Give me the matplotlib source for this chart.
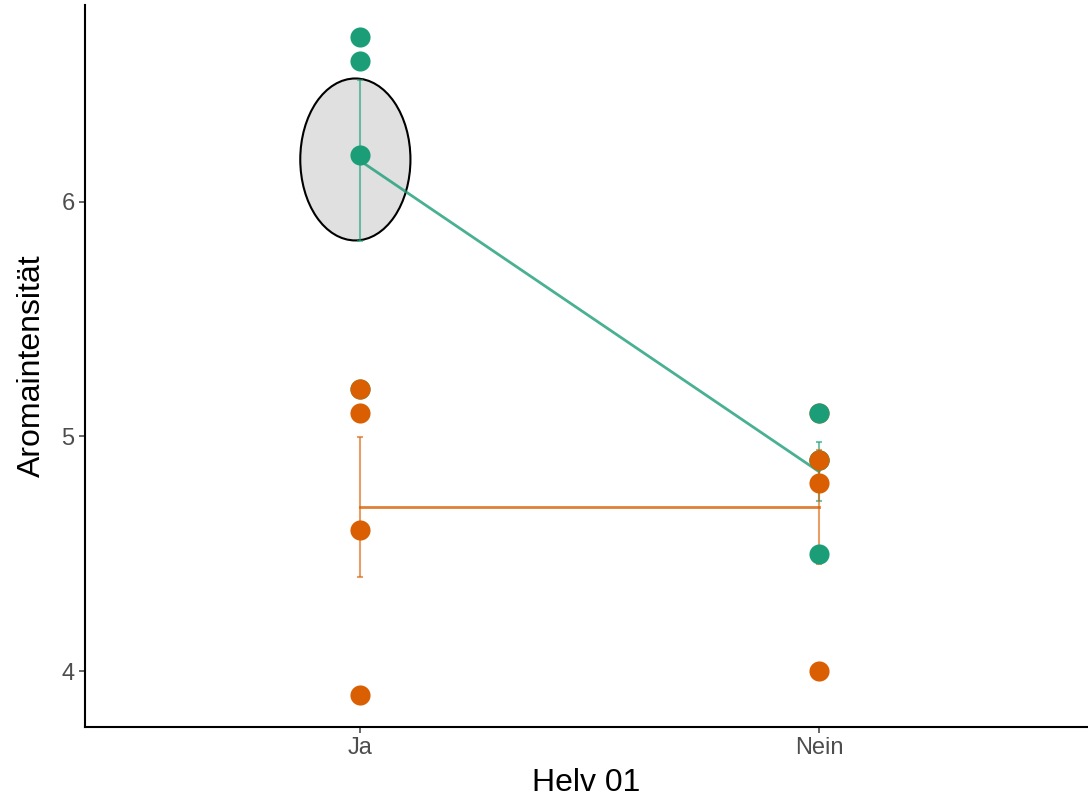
import numpy as np
import matplotlib.pyplot as plt
from matplotlib.patches import Ellipse

plt.rcParams['font.family'] = ['Liberation Sans', 'DejaVu Sans']

categories = ['Ja', 'Nein']
x_pos = [1, 2]

# raw values per group (green = group A, orange = group B)
green_ja = [6.7, 6.6, 6.2, 5.2]
green_nein = [5.1, 4.9, 4.9, 4.5]
orange_ja = [5.2, 5.1, 4.6, 3.9]
orange_nein = [5.1, 4.9, 4.8, 4.0]

green = '#1b9e77'
orange = '#d95f02'


def mean_se(vals):
    v = np.array(vals)
    return v.mean(), v.std(ddof=1) / np.sqrt(len(v))


fig = plt.figure(figsize=(10.88, 8.08), dpi=100)
ax = fig.add_axes([0.0781, 0.1002, 0.9219, 0.8936])

# highlight ellipse around the "Ja" green mean
ax.add_patch(Ellipse((0.99, 6.18), 0.24, 0.69, facecolor='#e0e0e0',
                     edgecolor='black', linewidth=1.5, zorder=1))

# means, error bars and connecting lines
for vals_a, vals_b, col in [(green_ja, green_nein, green), (orange_ja, orange_nein, orange)]:
    m = [mean_se(vals_a), mean_se(vals_b)]
    means = [a for a, _ in m]
    ses = [b for _, b in m]
    ax.plot(x_pos, means, color=col, lw=2, alpha=0.8, zorder=2)
    ax.errorbar(x_pos, means, yerr=ses, fmt='none', ecolor=col, elinewidth=1.5,
                capsize=2, capthick=1.5, alpha=0.6, zorder=2)

# raw points (order chosen so overlaps look like the original)
ax.scatter([1] * len(green_ja), green_ja, s=210, color=green, zorder=3, linewidths=0)
ax.scatter([1] * len(orange_ja), orange_ja, s=210, color=orange, zorder=4, linewidths=0)
ax.scatter([2] * len(orange_nein), orange_nein, s=210, color=orange, zorder=3, linewidths=0)
ax.scatter([2] * 2, [green_nein[0], green_nein[3]], s=210, color=green, zorder=4, linewidths=0)
ax.scatter([2] * 2, green_nein[1:3], s=210, color=green, zorder=2.5, linewidths=0)

ax.set_xlim(0.401, 2.586)
ax.set_ylim(3.762, 6.838)
ax.set_xticks(x_pos)
ax.set_xticklabels(categories)
ax.set_yticks([4, 5, 6])

ax.spines['top'].set_visible(False)
ax.spines['right'].set_visible(False)
for s in ['left', 'bottom']:
    ax.spines[s].set_linewidth(1.5)
ax.tick_params(colors='#4d4d4d', labelsize=17, length=4, width=1.2)
for lab in ax.get_xticklabels() + ax.get_yticklabels():
    lab.set_color('#4d4d4d')

ax.set_xlabel('Helv 01', fontsize=23, labelpad=6)
ax.set_ylabel('Aromaintensität', fontsize=23, labelpad=10)

fig.savefig('out.png', dpi=100)
